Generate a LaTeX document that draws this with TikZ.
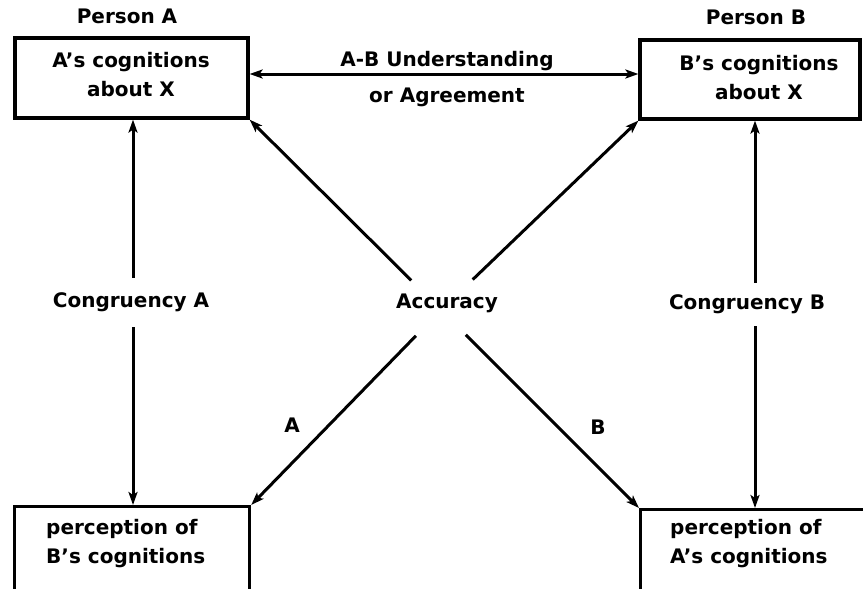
\documentclass[tikz,border=0pt]{standalone}
\usepackage{fontspec}
\setmainfont{DejaVu Sans}
\usetikzlibrary{arrows.meta,calc}
\begin{document}
\begin{tikzpicture}[x=1pt,y=-1pt,
  every node/.style={font=\bfseries\fontsize{20}{29}\selectfont, inner sep=0pt},
  boxst/.style={draw, line width=3.2pt, rectangle, minimum width=#1, inner sep=0pt},
  tip/.tip={Stealth[length=13pt,width=9pt,inset=3pt]},
  arr/.style={line width=3pt, -tip},
  dbl/.style={line width=3pt, tip-tip},
  gaplabel/.style={inner ysep=6pt, inner xsep=2pt}
]
\useasboundingbox (0,0) rectangle (863,589);
\clip (0,0) rectangle (863,589);
\fill[white] (0,0) rectangle (863,589);

% boxes
\node[boxst=233pt, minimum height=80pt] (tl) at (131.5,78) {};
\node[boxst=220pt, minimum height=79pt] (tr) at (750,79.5) {};
\node[boxst=235pt, minimum height=120pt, anchor=north west] (bl) at (13,505) {};
\node[boxst=235pt, minimum height=120pt, anchor=north west] (br) at (639,508) {};

% texts
\node (pa) at (127,16) {Person A};
\node (pb) at (756,17) {Person B};
\node[align=center] (ta) at (131,75) {A’s cognitions\\about X};
\node[align=center] (tb) at (759,78) {B’s cognitions\\about X};
\node[align=left, anchor=west] (tbl) at (46,544) {perception of\\B’s cognitions};
\node[align=left, anchor=west] (tbr) at (670,544) {perception of\\A’s cognitions};

% labels
\node (ab1) at (447,61) {A-B Understanding};
\node (ab2) at (447,97) {or Agreement};
\node (acc) at (447,303) {Accuracy};
\node[gaplabel, minimum height=49pt] (ca) at (131,302.5) {Congruency A};
\node[gaplabel, minimum height=43pt] (cb) at (747,304.5) {Congruency B};
\node (la) at (292,425) {A};
\node (lb) at (598,427) {B};

\coordinate (X) at (441,310);

% connectors
\draw[dbl] (tl.east |- 0,74) -- (tr.west |- 0,74);
\draw[arr] (ca.north -| 133,0) -- (tl.south -| 133,0);
\draw[arr] (ca.south -| 133,0) -- (bl.north -| 133,0);
\draw[arr] (cb.north -| 755,0) -- (tr.south -| 755,0);
\draw[arr] (cb.south -| 755,0) -- (br.north -| 755,0);
\draw[arr] ($(X)!42pt!(tl.south east)$) -- (tl.south east);
\draw[arr] ($(X)!44pt!(tr.south west)$) -- (tr.south west);
\draw[arr] ($(X)!36pt!(bl.north east)$) -- (bl.north east);
\draw[arr] ($(X)!35pt!(br.north west)$) -- (br.north west);
\end{tikzpicture}
\end{document}
